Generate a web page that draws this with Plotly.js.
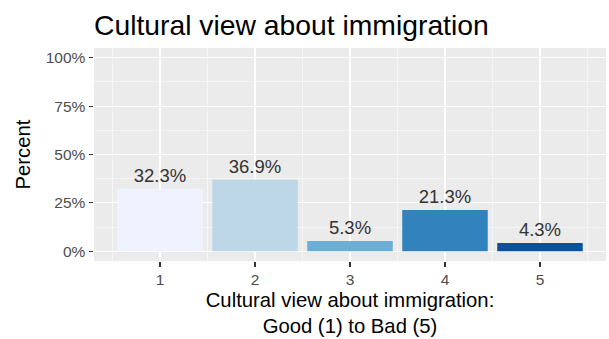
<!DOCTYPE html>
<html>
<head>
<meta charset="utf-8">
<script src="https://cdn.plot.ly/plotly-3.0.1.min.js"></script>
<style>html,body{margin:0;padding:0;background:#fff;}#chart{width:609px;height:339px;}</style>
</head>
<body>
<div id="chart"></div>
<script>
const categories = [1, 2, 3, 4, 5];
const percents = [32.3, 36.9, 5.3, 21.3, 4.3];
const barLabels = ["32.3%", "36.9%", "5.3%", "21.3%", "4.3%"];
const barColors = ["#EFF3FF", "#BDD7E7", "#6BAED6", "#3182BD", "#08519C"];
const yTickVals = [0, 25, 50, 75, 100];
const yTickText = ["0%", "25%", "50%", "75%", "100%"];

const font = "Liberation Sans, Arial, sans-serif";

const trace = {
  type: "bar",
  x: categories,
  y: percents,
  width: 0.9,
  marker: { color: barColors, line: { width: 0 } },
  text: barLabels,
  textposition: "outside",
  cliponaxis: false,
  textfont: { family: font, size: 18.5, color: "#333333" },
  hoverinfo: "none"
};

const layout = {
  width: 609,
  height: 339,
  paper_bgcolor: "#FFFFFF",
  plot_bgcolor: "#EBEBEB",
  margin: { l: 94, r: 3, t: 48, b: 78 },
  showlegend: false,
  font: { family: font },
  title: {
    text: "Cultural view about immigration",
    font: { family: font, size: 28.3, color: "#000000" },
    x: 94 / 609, xanchor: "left", xref: "container",
    y: 1 - 25 / 339, yanchor: "middle", yref: "container"
  },
  xaxis: {
    range: [0.305, 5.695],
    tickvals: categories,
    ticktext: categories.map(String),
    ticks: "outside", ticklen: 4.5, tickwidth: 1.1, tickcolor: "#333333",
    tickfont: { family: font, size: 15.5, color: "#4D4D4D" },
    showgrid: true, gridcolor: "#FFFFFF", gridwidth: 1.1,
    minor: { tickvals: [0.5, 1.5, 2.5, 3.5, 4.5, 5.5], showgrid: true, gridcolor: "#FFFFFF", gridwidth: 0.5, ticks: "" },
    zeroline: false, showline: false, fixedrange: true,
    title: { text: "Cultural view about immigration:<br>Good (1) to Bad (5)", font: { family: font, size: 20.3, color: "#000000" }, standoff: 5 }
  },
  yaxis: {
    range: [-5, 105],
    tickvals: yTickVals,
    ticktext: yTickText,
    ticks: "outside", ticklen: 4.5, tickwidth: 1.1, tickcolor: "#333333",
    tickfont: { family: font, size: 15.5, color: "#4D4D4D" },
    showgrid: true, gridcolor: "#FFFFFF", gridwidth: 1.1,
    minor: { tickvals: [12.5, 37.5, 62.5, 87.5], showgrid: true, gridcolor: "#FFFFFF", gridwidth: 0.5, ticks: "" },
    zeroline: false, showline: false, fixedrange: true,
    title: { text: "Percent", font: { family: font, size: 20.3, color: "#000000" }, standoff: 9 }
  }
};

Plotly.newPlot("chart", [trace], layout, { displayModeBar: false, staticPlot: true });
</script>
</body>
</html>
